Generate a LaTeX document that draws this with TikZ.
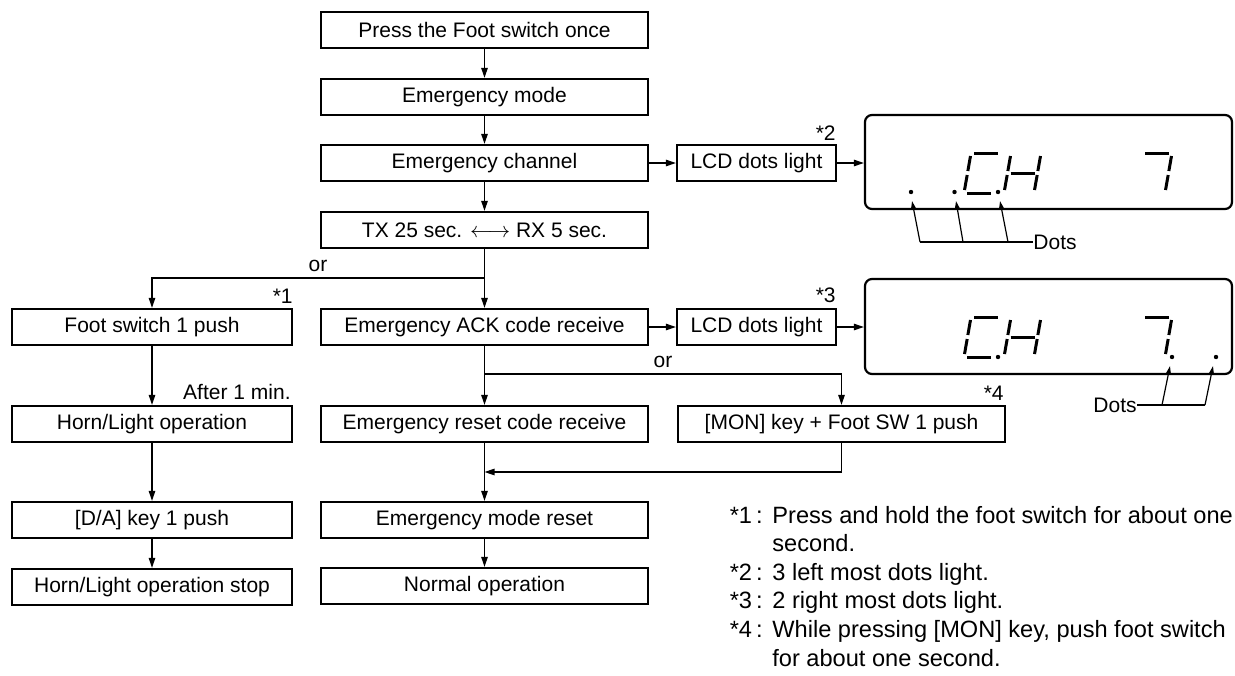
\documentclass[tikz,border=0pt]{standalone}
\usepackage{fontspec}
\setmainfont{Liberation Sans}
\usetikzlibrary{arrows.meta}
\newcommand{\mySegA}{\draw[seg] (3,-40)--(27,-40);}
\newcommand{\mySegB}{\draw[seg] (30,-37)--(30,-22);}
\newcommand{\mySegC}{\draw[seg] (30,-18)--(30,-3);}
\newcommand{\mySegD}{\draw[seg] (3,0)--(27,0);}
\newcommand{\mySegE}{\draw[seg] (0,-18)--(0,-3);}
\newcommand{\mySegF}{\draw[seg] (0,-37)--(0,-22);}
\newcommand{\mySegG}{\draw[seg] (3,-20)--(27,-20);}
\newcommand{\myDigitC}[2]{\begin{scope}[shift={(#1,#2)},xslant=0.175]\mySegA\mySegD\mySegE\mySegF\end{scope}}
\newcommand{\myDigitH}[2]{\begin{scope}[shift={(#1,#2)},xslant=0.175]\mySegB\mySegC\mySegE\mySegF\mySegG\end{scope}}
\newcommand{\myDigitSeven}[2]{\begin{scope}[shift={(#1,#2)},xslant=0.175]\mySegA\mySegB\mySegC\end{scope}}
\begin{document}
\begin{tikzpicture}[x=0.5pt,y=-0.5pt,
  font=\fontsize{10.5pt}{12.6pt}\selectfont,
  box/.style={draw,line width=1.1pt,minimum height=18pt,inner sep=0pt,anchor=center},
  wbox/.style={box,minimum width=163.5pt},
  lbox/.style={box,minimum width=140pt},
  cbox/.style={box,minimum width=79.5pt},
  disp/.style={draw,line width=1.1pt,rounded corners=3.5pt,minimum width=183.5pt,minimum height=47pt,inner sep=0pt},
  conn/.style={line width=0.7pt,-{Triangle[length=5pt,width=3.2pt]}},
  plain/.style={line width=0.7pt},
  dotarrow/.style={line width=0.6pt,-{Triangle[length=4pt,width=2.4pt]}},
  seg/.style={line width=1.5pt},
  lbl/.style={inner sep=0pt},
  note/.style={inner sep=0pt,font=\fontsize{11.8pt}{14pt}\selectfont}]
\useasboundingbox (0,0) rectangle (1235,675);
% middle column
\node[wbox] (n1) at (484.5,30) {Press the Foot switch once};
\node[wbox] (n2) at (484.5,97) {Emergency mode};
\node[wbox] (n3) at (484.5,163) {Emergency channel};
\node[wbox] (n4) at (484.5,230) {TX 25 sec. $\longleftrightarrow$ RX 5 sec.};
\node[wbox] (n5) at (484.5,327) {Emergency ACK code receive};
\node[wbox] (n6) at (484.5,424) {Emergency reset code receive};
\node[wbox] (n7) at (484.5,520) {Emergency mode reset};
\node[wbox] (n8) at (484.5,586) {Normal operation};
% left column
\node[lbox] (l1) at (152,327) {Foot switch 1 push};
\node[lbox] (l2) at (152,424) {Horn/Light operation};
\node[lbox] (l3) at (152,520) {[D/A] key 1 push};
\node[lbox] (l4) at (152,587) {Horn/Light operation stop};
% right side
\node[cbox] (c1) at (756.5,163) {LCD dots light};
\node[cbox] (c2) at (756.5,327) {LCD dots light};
\node[wbox] (m) at (841.5,424) {[MON] key + Foot SW 1 push};
\node[disp] (d1) at (1048.5,162) {};
\node[disp,minimum height=47.5pt] (d2) at (1048.5,326.5) {};
% connectors
\draw[conn] (n1) -- (n2);
\draw[conn] (n2) -- (n3);
\draw[conn] (n3) -- (n4);
\draw[conn] (n4) -- (n5);
\draw[conn] (n3) -- (c1);
\draw[conn] (c1) -- (d1.west |- c1);
\draw[conn] (n5) -- (c2);
\draw[conn] (c2) -- (d2.west |- c2);
\coordinate (br1) at (484.5,278);
\draw[conn] (br1) -| (l1.north);
\draw[conn] (l1) -- (l2);
\draw[conn] (l2) -- (l3);
\draw[conn] (l3) -- (l4);
\draw[conn] (n5) -- (n6);
\coordinate (br2) at (484.5,374);
\draw[conn] (br2) -| (m.north);
\draw[conn] (n6) -- (n7);
\coordinate (mg) at (484.5,472);
\draw[conn] (m.south) |- (mg);
\draw[conn] (n7) -- (n8);
% labels
\node[lbl] (or1) at (318,266) {or};
\node[lbl] (or2) at (663,362) {or};
\node[lbl,anchor=east] (s1) at (293,296) {*1};
\node[lbl,anchor=east] (after) at (291,392) {After 1 min.};
\node[lbl,anchor=east] (s2) at (836,133) {*2};
\node[lbl,anchor=east] (s3) at (836,295) {*3};
\node[lbl,anchor=east] (s4) at (1004,393) {*4};
% display 1 digits
\myDigitC{964}{193}
\myDigitH{1004}{193}
\myDigitSeven{1135}{193}
\fill (911,192) circle (2.2);
\fill (954.5,192) circle (2.2);
\fill (998,192) circle (2.2);
% display 2 digits
\myDigitC{964}{357}
\myDigitH{1004}{357}
\myDigitSeven{1135}{357}
\fill (998,357) circle (2.2);
\fill (1172,357) circle (2.2);
\fill (1216,357) circle (2.2);
% Dots callouts display 1
\node[lbl,anchor=west] (dots1) at (1033,242) {Dots};
\coordinate (j1) at (920,242);
\coordinate (j2) at (963,242);
\coordinate (j3) at (1008,242);
\coordinate (t1) at (912,201);
\coordinate (t2) at (956,201);
\coordinate (t3) at (1000,201);
\draw[plain] (j1) -- (dots1.west);
\draw[dotarrow] (j1) -- (t1);
\draw[dotarrow] (j2) -- (t2);
\draw[dotarrow] (j3) -- (t3);
% Dots callouts display 2
\node[lbl,anchor=east] (dots2) at (1137,405) {Dots};
\coordinate (k1) at (1162,405);
\coordinate (k2) at (1205,405);
\coordinate (u1) at (1170,366);
\coordinate (u2) at (1213,366);
\draw[plain] (dots2.east) -- (k2);
\draw[dotarrow] (k1) -- (u1);
\draw[dotarrow] (k2) -- (u2);
% footnotes
\node[note,anchor=base east] (f1k) at (763,523) {*1\,:};
\node[note,anchor=base west] (f1) at (772,523) {Press and hold the foot switch for about one};
\node[note,anchor=base west] (f1b) at (772,551.6) {second.};
\node[note,anchor=base east] (f2k) at (763,580.2) {*2\,:};
\node[note,anchor=base west] (f2) at (772,580.2) {3 left most dots light.};
\node[note,anchor=base east] (f3k) at (763,608.8) {*3\,:};
\node[note,anchor=base west] (f3) at (772,608.8) {2 right most dots light.};
\node[note,anchor=base east] (f4k) at (763,637.4) {*4\,:};
\node[note,anchor=base west] (f4) at (772,637.4) {While pressing [MON] key, push foot switch};
\node[note,anchor=base west] (f4b) at (772,666) {for about one second.};
\end{tikzpicture}
\end{document}
